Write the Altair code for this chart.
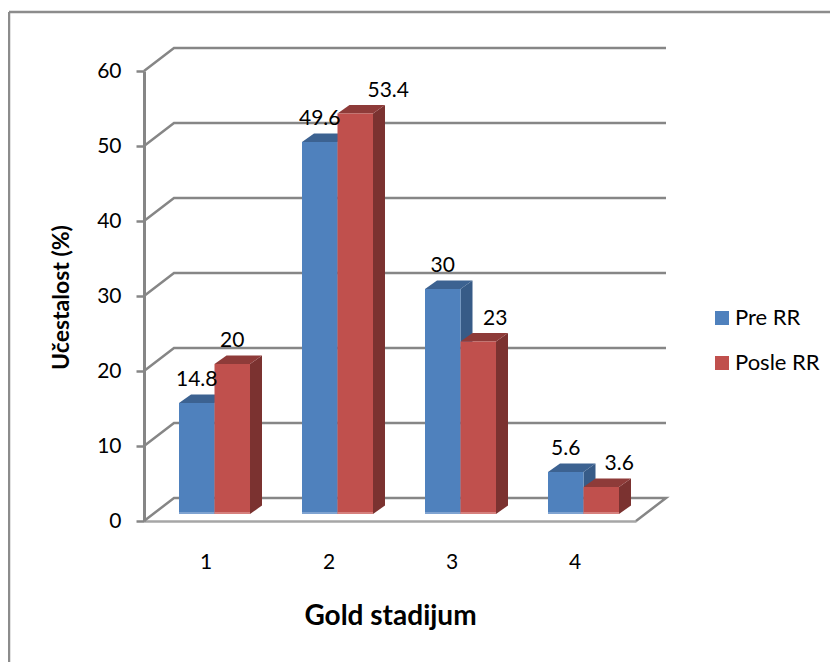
import altair as alt
import pandas as pd

categories = [1, 2, 3, 4]
pre_rr = [14.8, 49.6, 30, 5.6]
posle_rr = [20, 53.4, 23, 3.6]
series_names = ["Pre RR", "Posle RR"]
y_ticks = [0, 10, 20, 30, 40, 50, 60]

FONT = "Lato"
GREY = "#868686"
FRONT = {"Pre RR": "#4F81BD", "Posle RR": "#C0504D"}
TOP = {"Pre RR": "#3C6291", "Posle RR": "#8E3B39"}
SIDE = {"Pre RR": "#375B87", "Posle RR": "#7B3230"}
BASE = {"Pre RR": "#7FA3D1", "Posle RR": "#D6817E"}

# Projection, in data units (123 px per category, 7.5 px per percent)
W, H = 492, 450
PX_X = 123.0
PX_Y = 7.5
WALL_DX, WALL_DY = 30 / PX_X, 23 / PX_Y
BAR_W = 35.5 / PX_X
BAR_SHIFT = 9 / PX_X
BAR_DX, BAR_DY = 12 / PX_X, 8.5 / PX_Y
FLOOR = 7 / PX_Y
X0, X1 = 0.5, 4.5

x_scale = alt.Scale(domain=[X0, X1], nice=False, zero=False)
y_scale = alt.Scale(domain=[0, 60], nice=False, zero=False)

bars = []
for name, vals in zip(series_names, [pre_rr, posle_rr]):
    for c, v in zip(categories, vals):
        centre = c + BAR_SHIFT + (-0.5 if name == "Pre RR" else 0.5) * BAR_W
        bars.append(dict(cat=c, series=name, value=v, label=f"{v:g}",
                         xl=centre - BAR_W / 2, xr=centre + BAR_W / 2, xc=centre,
                         base=FLOOR, top=FLOOR + v))
bars = pd.DataFrame(bars)

faces_side, faces_top = [], []
for r in bars.itertuples():
    key = f"{r.series}{r.cat}"
    faces_side += [
        dict(key=key, series=r.series, x=r.xr, y=r.top, y2=r.base),
        dict(key=key, series=r.series, x=r.xr + BAR_DX, y=r.top + BAR_DY, y2=r.base + BAR_DY),
    ]
    faces_top += [
        dict(key=key, series=r.series, x=r.xl, y=r.top, y2=r.top),
        dict(key=key, series=r.series, x=r.xl + BAR_DX, y=r.top + BAR_DY, y2=r.top),
        dict(key=key, series=r.series, x=r.xr, y=r.top + BAR_DY, y2=r.top),
        dict(key=key, series=r.series, x=r.xr + BAR_DX, y=r.top + BAR_DY, y2=r.top + BAR_DY),
    ]
faces_side = pd.DataFrame(faces_side)
faces_top = pd.DataFrame(faces_top)

grid = []
for t in y_ticks:
    pts = [(X0, t), (X0 + WALL_DX, t + WALL_DY), (X1 + WALL_DX, t + WALL_DY)]
    if t == 0:
        pts.append((X1, t))
    for i, (px, py) in enumerate(pts):
        grid.append(dict(tick=t, order=i, x=px, y=py))
grid = pd.DataFrame(grid)

X = lambda f: alt.X(f, type="quantitative", scale=x_scale)
Y = lambda f: alt.Y(f, type="quantitative", scale=y_scale)

walls = alt.Chart(grid).mark_line(color=GREY, strokeWidth=2.5).encode(
    x=alt.X("x:Q", scale=x_scale,
            axis=alt.Axis(values=categories, format="d", domain=True, domainColor="#A6A6A6",
                          domainWidth=2.5, ticks=False, grid=False, labelFont=FONT, labelFontSize=21,
                          labelColor="#000000", labelPadding=30, labelFlush=False,
                          title="Gold stadijum", titleFont=FONT, titleFontSize=28,
                          titleFontWeight="bold", titleColor="#000000", titleX=246, titleY=81)),
    y=alt.Y("y:Q", scale=y_scale,
            axis=alt.Axis(values=y_ticks, domain=True, domainColor=GREY, domainWidth=3,
                          ticks=True, tickColor=GREY, tickWidth=2.5, tickSize=8, grid=False,
                          labelFont=FONT, labelFontSize=21, labelColor="#000000", labelPadding=15,
                          title="Učestalost (%)", titleFont=FONT, titleFontSize=23,
                          titleFontWeight="bold", titleColor="#000000", titleX=-71, titleY=226)),
    detail="tick:N",
    order="order:Q",
)

layers = [walls]

# Chart frame: top and left edges
layers.append(alt.Chart(pd.DataFrame({"a": [0]})).mark_rule(color="#8C8C8C", strokeWidth=2.5).encode(
    x=alt.value(-135), x2=alt.value(690), y=alt.value(-59)))
layers.append(alt.Chart(pd.DataFrame({"a": [0]})).mark_rule(color="#8C8C8C", strokeWidth=2.5).encode(
    x=alt.value(-135), y=alt.value(-59), y2=alt.value(591)))

for name in series_names:
    layers.append(alt.Chart(faces_side[faces_side.series == name]).mark_area(color=SIDE[name], orient="vertical").encode(
        x=X("x"), y=Y("y"), y2="y2:Q", detail="key:N"))
    layers.append(alt.Chart(faces_top[faces_top.series == name]).mark_area(color=TOP[name], orient="vertical").encode(
        x=X("x"), y=Y("y"), y2="y2:Q", detail="key:N"))

layers.append(alt.Chart(bars).mark_rect().encode(
    x=X("xl"), x2="xr:Q", y=Y("top"), y2="base:Q",
    color=alt.Color("series:N",
                    scale=alt.Scale(domain=series_names, range=[FRONT[s] for s in series_names]),
                    legend=alt.Legend(title=None, orient="none", legendX=567, legendY=236,
                                      symbolType="square", symbolSize=196, symbolStrokeWidth=0,
                                      symbolOpacity=1, labelFont=FONT, labelFontSize=22,
                                      labelColor="#000000", rowPadding=23, labelOffset=2,
                                      padding=0))))

for name in series_names:
    sub = bars[bars.series == name]
    layers.append(alt.Chart(sub).mark_rect(color=BASE[name]).encode(
        x=X("xl"), x2="xr:Q", y=Y("base"), y2=alt.Y2(datum=FLOOR + 2 / PX_Y)))

# Data labels: the reference shifts three of them clear of the bar behind
nudged = {(2, "Posle RR"): 33, (3, "Posle RR"): 17, (4, "Posle RR"): 18}
bars["nudge"] = [nudged.get((c, s), 0) for c, s in zip(bars.cat, bars.series)]
for n in sorted(bars.nudge.unique()):
    layers.append(alt.Chart(bars[bars.nudge == n]).mark_text(
        font=FONT, fontSize=21, color="#000000", baseline="alphabetic", dx=int(n), dy=-17).encode(
        x=X("xc"), y=Y("top"), text="label:N"))

chart = alt.layer(*layers).resolve_scale(color="independent").properties(
    width=W, height=H,
    padding={"left": 136, "top": 63, "right": 194, "bottom": 141},
    autosize=alt.AutoSizeParams(type="none"),
    background="#FFFFFF",
).configure_view(stroke=None)

chart.save("out.html", embed_options={"renderer": "svg", "actions": False})
